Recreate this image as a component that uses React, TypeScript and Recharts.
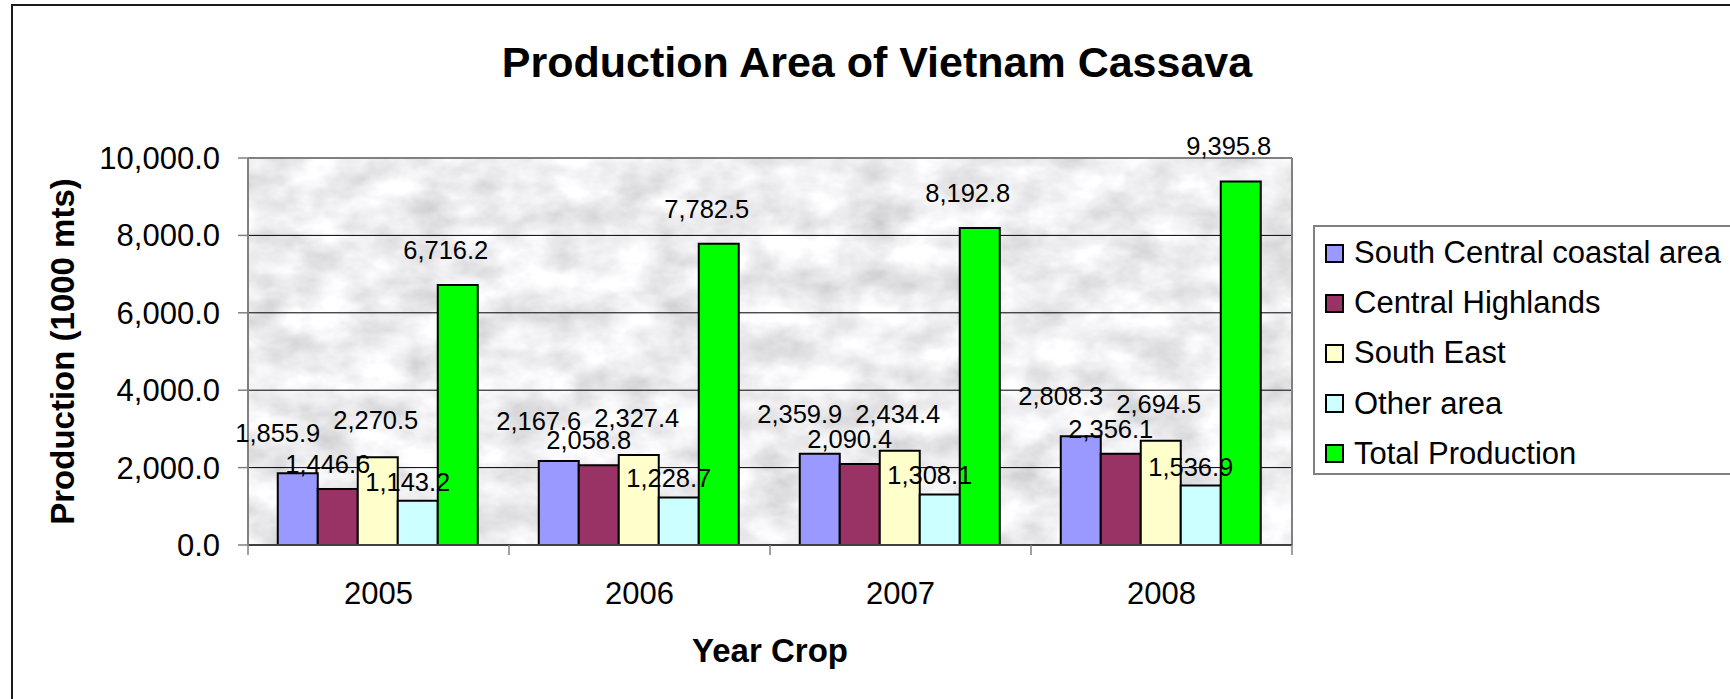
import { Bar, BarChart, CartesianGrid, LabelList, XAxis, YAxis } from 'recharts'

const years = ['2005', '2006', '2007', '2008']
const southCentralCoastal = [1855.9, 2167.6, 2359.9, 2808.3]
const centralHighlands = [1446.6, 2058.8, 2090.4, 2356.1]
const southEast = [2270.5, 2327.4, 2434.4, 2694.5]
const otherArea = [1143.2, 1228.7, 1308.1, 1536.9]
const totalProduction = [6716.2, 7782.5, 8192.8, 9395.8]
const yTicks = [0, 2000, 4000, 6000, 8000, 10000]

const seriesNames = [
  'South Central coastal area',
  'Central Highlands',
  'South East',
  'Other area',
  'Total Production',
]
const seriesValues = [southCentralCoastal, centralHighlands, southEast, otherArea, totalProduction]
const seriesColors = ['#9999ff', '#993366', '#ffffcc', '#ccffff', '#00ff00']
// data labels in the original sit a bit off the bar centre, per series
const labelNudge = [
  { dx: -20, offset: 31 },
  { dx: -10, offset: 16 },
  { dx: -2, offset: 28 },
  { dx: -10, offset: 10 },
  { dx: -12, offset: 26 },
]

const chartData = years.map((year, i) => {
  const row: Record<string, string | number> = { year }
  seriesValues.forEach((values, s) => {
    row[`s${s}`] = values[i]
  })
  return row
})

const FONT = "'Liberation Sans', Arial, Helvetica, sans-serif"
const TICK_GAP = 37

const fmt = (v: number) =>
  Number(v).toLocaleString('en-US', { minimumFractionDigits: 1, maximumFractionDigits: 1 })

// category label in the middle, tick marks on the band edges (Excel style)
function YearTick(props: any) {
  const { x, y, payload, index, visibleTicksCount } = props
  const half = payload?.offset ?? 0
  const axisY = y - TICK_GAP
  const isLast = index === visibleTicksCount - 1
  return (
    <g>
      <line x1={x - half} x2={x - half} y1={axisY} y2={axisY + 10} stroke="#808080" strokeWidth={1.5} />
      {isLast && (
        <line x1={x + half} x2={x + half} y1={axisY} y2={axisY + 10} stroke="#808080" strokeWidth={1.5} />
      )}
      <text x={x} y={y} dy="0.71em" textAnchor="middle" fontSize={31} fill="#000">
        {payload.value}
      </text>
    </g>
  )
}

function Legend() {
  return (
    <div
      style={{
        position: 'absolute',
        left: 1313,
        top: 225,
        width: 500,
        height: 250,
        boxSizing: 'border-box',
        border: '2px solid #808080',
        background: '#fff',
        paddingTop: 1,
      }}
    >
      {seriesNames.map((name, i) => (
        <div key={name} style={{ display: 'flex', alignItems: 'center', height: 50.2 }}>
          <span
            style={{
              display: 'inline-block',
              width: 19,
              height: 19,
              boxSizing: 'border-box',
              border: '2px solid #000',
              background: seriesColors[i],
              marginLeft: 10,
              marginRight: 10,
            }}
          />
          <span style={{ fontSize: 31, color: '#000', whiteSpace: 'nowrap' }}>{name}</span>
        </div>
      ))}
    </div>
  )
}

export default function App() {
  return (
    <div
      style={{
        position: 'absolute',
        left: 0,
        top: 0,
        width: 1730,
        height: 699,
        overflow: 'hidden',
        background: '#fff',
        fontFamily: FONT,
      }}
    >
      <div
        style={{
          position: 'absolute',
          left: 11,
          top: 4,
          width: 1800,
          height: 800,
          border: '2px solid #1a1a1a',
        }}
      />
      <div
        style={{
          position: 'absolute',
          left: 877,
          top: 41,
          transform: 'translateX(-50%)',
          fontSize: 43,
          lineHeight: 1,
          fontWeight: 700,
          whiteSpace: 'nowrap',
          color: '#000',
        }}
      >
        Production Area of Vietnam Cassava
      </div>

      <div style={{ position: 'absolute', left: 0, top: 0 }}>
        <BarChart
          width={1730}
          height={699}
          data={chartData}
          margin={{ top: 158, right: 438, bottom: 0, left: 0 }}
          barCategoryGap="11.4%"
          barGap={0}
        >
          <defs>
            <filter id="marbleFilter" x="0" y="0" width="100%" height="100%">
              <feTurbulence type="fractalNoise" baseFrequency="0.02 0.03" numOctaves={4} seed={11} />
              <feColorMatrix
                type="matrix"
                values="0.6 0 0 0 0.56  0.6 0 0 0 0.56  0.6 0 0 0 0.58  0 0 0 0 1"
              />
            </filter>
            <pattern id="marbleFill" patternUnits="userSpaceOnUse" width={1730} height={699}>
              <rect width={1730} height={699} filter="url(#marbleFilter)" />
            </pattern>
          </defs>
          <CartesianGrid fill="url(#marbleFill)" stroke="#000" strokeWidth={1} vertical={false} />
          <CartesianGrid
            fill="none"
            stroke="#808080"
            strokeWidth={2}
            horizontalCoordinatesGenerator={({ offset }: any) => [offset.top, offset.top + offset.height]}
            verticalCoordinatesGenerator={({ offset }: any) => [offset.left, offset.left + offset.width]}
          />
          <XAxis
            dataKey="year"
            height={154}
            tickSize={0}
            tickMargin={TICK_GAP}
            tickLine={false}
            axisLine={{ stroke: '#404040', strokeWidth: 2 }}
            tick={<YearTick />}
            label={{
              value: 'Year Crop',
              position: 'insideBottom',
              offset: 37,
              fontSize: 33,
              fontWeight: 700,
              fill: '#000',
            }}
          />
          <YAxis
            width={248}
            domain={[0, 10000]}
            ticks={yTicks}
            tickFormatter={fmt}
            tickSize={10}
            tickMargin={18}
            tick={{ fontSize: 31, fill: '#000' }}
            tickLine={{ stroke: '#808080', strokeWidth: 1.5 }}
            axisLine={{ stroke: '#808080', strokeWidth: 2 }}
            label={{
              value: 'Production (1000 mts)',
              angle: -90,
              position: 'center',
              dx: -62,
              fontSize: 33,
              fontWeight: 700,
              fill: '#000',
            }}
          />
          {seriesNames.map((name, s) => (
            <Bar
              key={name}
              dataKey={`s${s}`}
              name={name}
              fill={seriesColors[s]}
              stroke="#000"
              strokeWidth={2}
              isAnimationActive={false}
            >
              <LabelList
                dataKey={`s${s}`}
                position="top"
                offset={labelNudge[s].offset}
                dx={labelNudge[s].dx}
                formatter={(v: any) => fmt(v)}
                style={{ fontSize: 25.5, fill: '#000' }}
              />
            </Bar>
          ))}
        </BarChart>
      </div>
      <Legend />
    </div>
  )
}
